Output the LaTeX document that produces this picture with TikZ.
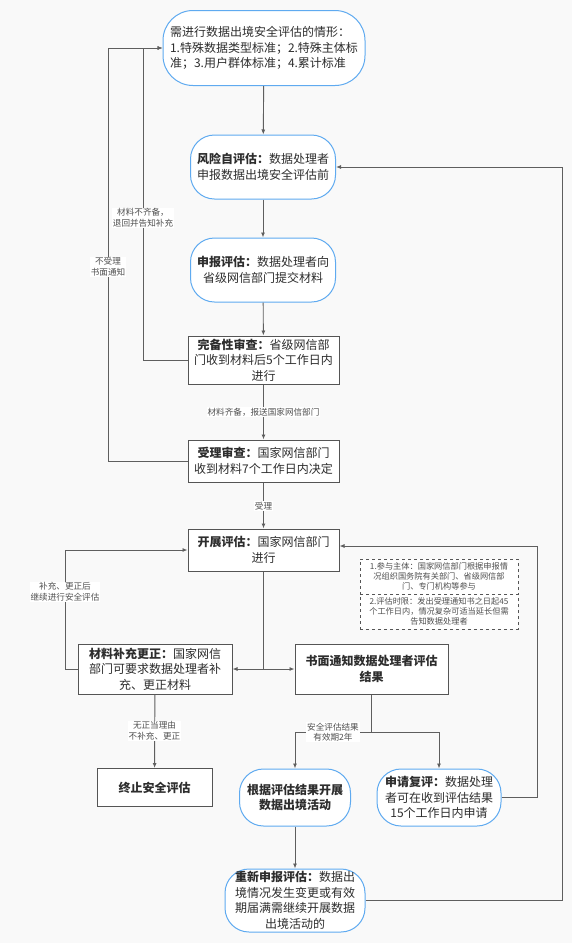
\documentclass[tikz,border=0pt]{standalone}
\usepackage{fontspec}
\setmainfont{Noto Sans CJK SC}
\usetikzlibrary{arrows.meta}

\begin{document}
\begin{tikzpicture}[x=1pt, y=-1pt,
  txt/.style={font=\fontsize{12}{15.5}\selectfont, text=mytext, align=center, inner sep=2pt},
  roundbox/.style={txt, draw=myblue, line width=1pt, fill=white, rounded corners=24pt},
  sqbox/.style={txt, draw=mygray, line width=1pt, fill=white},
  notebox/.style={draw=mygray, dashed, line width=0.8pt, fill=white, font=\fontsize{8.2}{10.2}\selectfont, text=mynote, align=center, minimum width=158pt, minimum height=35pt, inner sep=0.5pt},
  lbl/.style={fill=white, font=\fontsize{8.6}{10.6}\selectfont, text=mynote, align=center, inner sep=1pt},
  line/.style={draw=myline, line width=0.9pt},
  arr/.style={line, -{Latex[length=5pt,width=4pt]}}
]

% Define colors
\definecolor{mybg}{RGB}{249, 249, 249}
\definecolor{myblue}{RGB}{95, 170, 240}
\definecolor{mygray}{RGB}{85, 85, 85}
\definecolor{myline}{RGB}{95, 95, 95}
\definecolor{mytext}{RGB}{45, 45, 45}
\definecolor{mynote}{RGB}{80, 80, 80}

% Background
\fill[mybg] (0, 0) rectangle (572, 943);
\useasboundingbox (0, 0) rectangle (572, 943);

% Draw the main column
\node[roundbox, align=left, minimum width=202pt, minimum height=75pt, rounded corners=30pt] (start) at (264, 48) {需进行数据出境安全评估的情形：\\1.特殊数据类型标准；2.特殊主体标\\准；3.用户群体标准；4.累计标准};
\node[roundbox, minimum width=145pt, minimum height=64pt] (selfeval) at (263, 167) {\textbf{风险自评估：}数据处理者\\申报数据出境安全评估前};
\node[roundbox, minimum width=145pt, minimum height=64pt] (apply) at (263, 270) {\textbf{申报评估：}数据处理者向\\省级网信部门提交材料};
\node[sqbox, minimum width=151pt, minimum height=48pt] (complete) at (263.5, 360) {\textbf{完备性审查：}省级网信部\\门收到材料后5个工作日内\\进行};
\node[sqbox, minimum width=151pt, minimum height=42pt] (accept) at (263.5, 461) {\textbf{受理审查：}国家网信部门\\收到材料7个工作日内决定};
\node[sqbox, minimum width=151pt, minimum height=42pt] (assess) at (263.5, 550) {\textbf{开展评估：}国家网信部门\\进行};

% Draw the dashed notes
\node[notebox] (noteA) at (439, 576.5) {1.参与主体：国家网信部门根据申报情\\况组织国务院有关部门、省级网信部\\门、专门机构等参与};
\node[notebox] (noteB) at (439, 611.5) {2.评估时限：发出受理通知书之日起45\\个工作日内，情况复杂可适当延长但需\\告知数据处理者};

% Draw the lower boxes
\node[sqbox, minimum width=154pt, minimum height=50pt] (amend) at (155, 669) {\textbf{材料补充更正：}国家网信\\部门可要求数据处理者补\\充、更正材料};
\node[sqbox, minimum width=153pt, minimum height=50pt] (notify) at (371.5, 669) {\textbf{书面通知数据处理者评估}\\\textbf{结果}};
\node[sqbox, minimum width=115pt, minimum height=38pt] (stop) at (154.5, 787.5) {\textbf{终止安全评估}};
\node[roundbox, minimum width=111pt, minimum height=57pt] (carry) at (295, 797.5) {\textbf{根据评估结果开展}\\\textbf{数据出境活动}};
\node[roundbox, minimum width=124pt, minimum height=57pt] (review) at (439, 797.5) {\textbf{申请复评：}数据处理\\者可在收到评估结果\\15个工作日内申请};
\node[roundbox, minimum width=140pt, minimum height=63pt] (reapply) at (295, 900.5) {\textbf{重新申报评估：}数据出\\境情况发生变更或有效\\期届满需继续开展数据\\出境活动的};

% Corner points of the loops
\coordinate (backA) at (143, 48);
\coordinate (backB) at (108, 48);
\coordinate (split) at (263.5, 669);
\coordinate (fork) at (371.5, 732);
\coordinate (loopL) at (65, 550);
\coordinate (loopR) at (537, 546);
\coordinate (loopF) at (562, 167);

% Draw the straight arrows
\draw[arr] (start) -- (selfeval);
\draw[arr] (selfeval) -- (apply);
\draw[arr] (apply) -- (complete);
\draw[arr] (complete) -- (accept);
\draw[arr] (accept) -- (assess);
\draw[line] (assess) -- (split);
\draw[arr] (split) -- (amend);
\draw[arr] (split) -- (notify);
\draw[arr] (amend) -- (stop);
\draw[line] (notify) -- (fork);
\draw[arr] (fork) -| (carry);
\draw[arr] (fork) -| (review);
\draw[arr] (carry) -- (reapply);

% Draw the loops back
\draw[arr] (complete.west) -| (backA) -- (start.west);
\draw[arr] (accept.west) -| (backB) -- (start.west);
\draw[arr] (amend.west) -| (loopL) -- (assess.west);
\draw[arr] (review.east) -| (loopR) -- (assess.east |- loopR);
\draw[arr] (reapply.east) -| (loopF) -- (selfeval.east);

% Add labels
\node[lbl] (lackLbl) at (143, 218) {材料不齐备，\\退回并告知补充};
\node[lbl] (refuseLbl) at (108, 267) {不受理\\书面通知};
\node[lbl] (readyLbl) at (263.5, 412) {材料齐备，报送国家网信部门};
\node[lbl] (okLbl) at (263.5, 506) {受理};
\node[lbl] (fixLbl) at (65, 592) {补充、更正后\\继续进行安全评估};
\node[lbl] (noFixLbl) at (154.5, 731) {无正当理由\\不补充、更正};
\node[lbl] (validLbl) at (333, 732) {安全评估结果\\有效期2年};

\end{tikzpicture}
\end{document}
